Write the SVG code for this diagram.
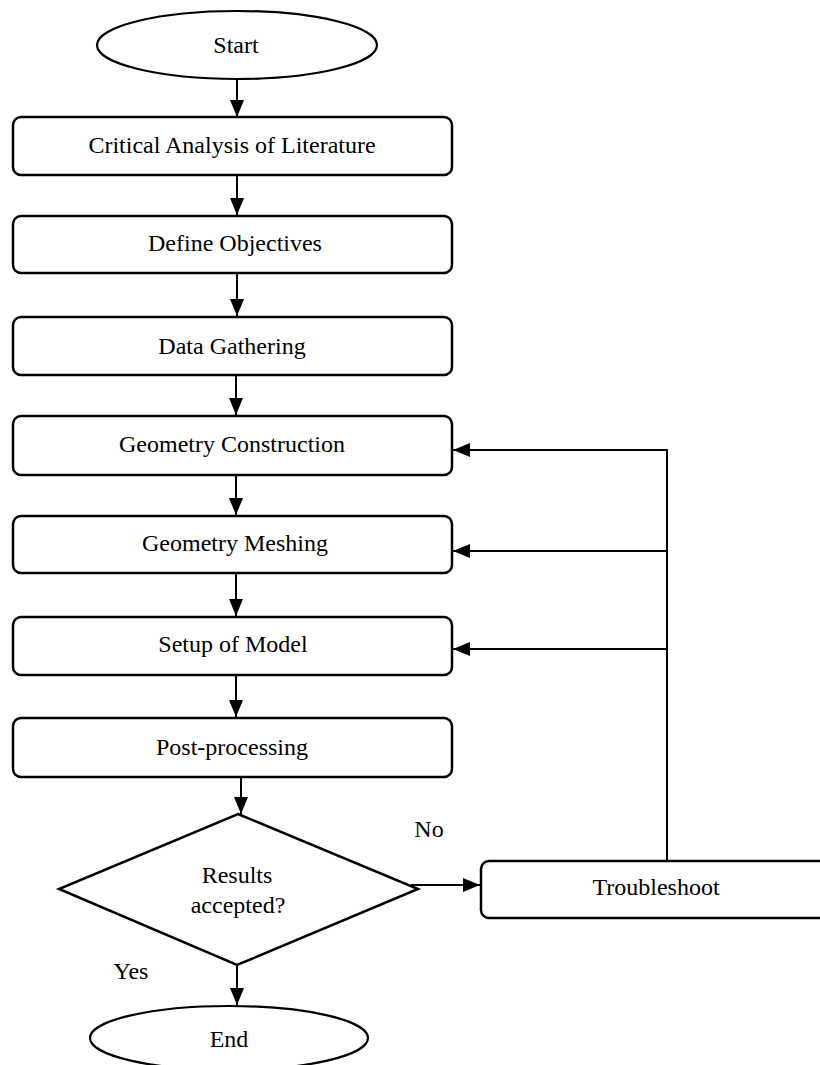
<svg xmlns="http://www.w3.org/2000/svg" width="820" height="1065" viewBox="0 0 820 1065">
<defs>
<style>
.box{fill:#fff;stroke:#000;stroke-width:2.5}
.term{fill:#fff;stroke:#000;stroke-width:2.2}
.lbl{font-family:"Liberation Serif","Times New Roman",serif;font-size:24px;fill:#000;text-anchor:middle}
.edge{fill:none;stroke:#000;stroke-width:2}
</style>
<marker id="ah" markerUnits="userSpaceOnUse" markerWidth="18" markerHeight="15" refX="17" refY="7" orient="auto">
<path d="M0,0 L17,7 L0,14 z" fill="#000"/>
</marker>
</defs>
<rect width="820" height="1065" fill="#fff"/>
<g id="connectors">
<line class="edge" x1="237" y1="79" x2="237" y2="117" marker-end="url(#ah)"/>
<line class="edge" x1="237" y1="175" x2="237" y2="215" marker-end="url(#ah)"/>
<line class="edge" x1="237" y1="273" x2="237" y2="316" marker-end="url(#ah)"/>
<line class="edge" x1="236" y1="375" x2="236" y2="415" marker-end="url(#ah)"/>
<line class="edge" x1="236" y1="475" x2="236" y2="515" marker-end="url(#ah)"/>
<line class="edge" x1="236" y1="573" x2="236" y2="616" marker-end="url(#ah)"/>
<line class="edge" x1="236" y1="675" x2="236" y2="717" marker-end="url(#ah)"/>
<line class="edge" x1="241" y1="777" x2="241" y2="814" marker-end="url(#ah)"/>
<line class="edge" x1="237" y1="965" x2="237" y2="1005" marker-end="url(#ah)"/>
<line class="edge" x1="411" y1="885" x2="480" y2="885" marker-end="url(#ah)"/>
<path class="edge" d="M667,864 L667,450 L453,450" marker-end="url(#ah)"/>
<line class="edge" x1="667" y1="551" x2="453" y2="551" marker-end="url(#ah)"/>
<line class="edge" x1="667" y1="649" x2="453" y2="649" marker-end="url(#ah)"/>
</g>
<g id="start">
<ellipse class="term" cx="237" cy="45" rx="140" ry="34"/>
<text class="lbl" x="236" y="53">Start</text>
</g>
<g id="n1">
<rect class="box" x="13" y="117" width="439" height="58" rx="8"/>
<text class="lbl" x="232" y="153">Critical Analysis of Literature</text>
</g>
<g id="n2">
<rect class="box" x="13" y="216" width="439" height="57" rx="8"/>
<text class="lbl" x="235" y="251">Define Objectives</text>
</g>
<g id="n3">
<rect class="box" x="13" y="317" width="439" height="58" rx="8"/>
<text class="lbl" x="232" y="354">Data Gathering</text>
</g>
<g id="n4">
<rect class="box" x="13" y="416" width="439" height="59" rx="8"/>
<text class="lbl" x="232" y="452">Geometry Construction</text>
</g>
<g id="n5">
<rect class="box" x="13" y="516" width="439" height="57" rx="8"/>
<text class="lbl" x="235" y="551">Geometry Meshing</text>
</g>
<g id="n6">
<rect class="box" x="13" y="617" width="439" height="58" rx="8"/>
<text class="lbl" x="233" y="652">Setup of Model</text>
</g>
<g id="n7">
<rect class="box" x="13" y="718" width="439" height="59" rx="8"/>
<text class="lbl" x="232" y="755">Post-processing</text>
</g>
<g id="decision">
<polygon class="box" points="238,814 418,889 237,965 59,889"/>
<text class="lbl" x="237" y="883">Results</text>
<text class="lbl" x="238" y="913">accepted?</text>
</g>
<g id="troubleshoot">
<rect class="box" x="481" y="861" width="400" height="57" rx="8"/>
<text class="lbl" x="656" y="895">Troubleshoot</text>
</g>
<g id="end">
<ellipse class="term" cx="229" cy="1038" rx="139" ry="32"/>
<text class="lbl" x="229" y="1047">End</text>
</g>
<g id="labels">
<text class="lbl" x="429" y="837">No</text>
<text class="lbl" x="131" y="979">Yes</text>
</g>
</svg>
